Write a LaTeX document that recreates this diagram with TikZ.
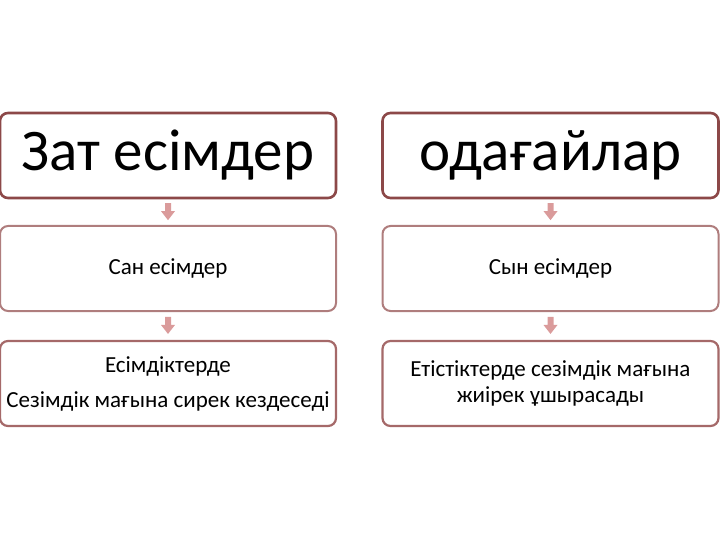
\documentclass[tikz,border=0pt]{standalone}
\usepackage{fontspec}
\setmainfont{Carlito}
\definecolor{bordA}{RGB}{140,72,72}
\definecolor{bordB}{RGB}{175,125,125}
\definecolor{bordC}{RGB}{165,105,105}
\definecolor{arrC}{RGB}{218,155,155}
\tikzset{
  box/.style={draw, rounded corners=8pt, fill=white, minimum width=336pt, minimum height=85pt, align=center, inner sep=2pt, text=black},
  topbox/.style={box, draw=bordA, line width=2.6pt, font=\fontsize{59}{66}\selectfont},
  midbox/.style={box, draw=bordB, line width=2pt, font=\fontsize{23}{28}\selectfont},
  botbox/.style={box, draw=bordC, line width=2.2pt},
  darr/.style={arrC, fill=arrC, draw=none}
}
\begin{document}
\begin{tikzpicture}[x=1pt,y=-1pt]
\useasboundingbox (0,0) rectangle (720,540);
\node[topbox] (a1) at (168,155.5) {Зат есімдер};
\node[topbox] (b1) at (550.5,155.5) {одағайлар};
\node[midbox] (a2) at (168,268.5) {Сан есімдер};
\node[midbox] (b2) at (550.5,268.5) {Сын есімдер};
\node[botbox, font=\fontsize{23}{35}\selectfont] (a3) at (168,383.5) {Есімдіктерде\\Сезімдік мағына сирек кездеседі};
\node[botbox, font=\fontsize{23}{26}\selectfont] (b3) at (550.5,383.5) {Етістіктерде сезімдік мағына\\жиірек ұшырасады};
\foreach \u/\l in {a1/a2,a2/a3,b1/b2,b2/b3}{
  \path (\u.south) -- (\l.north) coordinate[pos=0.5] (m\u);
  \fill[darr] ([xshift=-3pt,yshift=9pt]m\u) -- ([xshift=3pt,yshift=9pt]m\u) -- ([xshift=3pt,yshift=1pt]m\u) -- ([xshift=7pt,yshift=1pt]m\u) -- ([yshift=-8pt]m\u) -- ([xshift=-7pt,yshift=1pt]m\u) -- ([xshift=-3pt,yshift=1pt]m\u) -- cycle;
}
\end{tikzpicture}
\end{document}
